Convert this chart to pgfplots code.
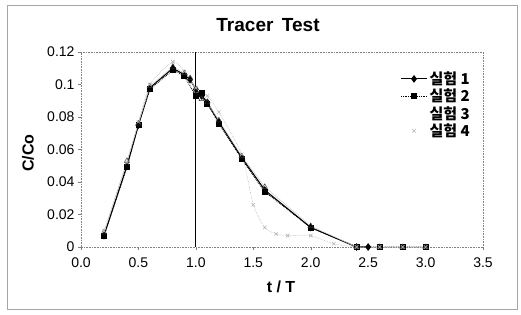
\documentclass[border=0pt]{standalone}
\usepackage{fontspec}
\setmainfont{Liberation Sans}
\newfontfamily\kr{Noto Sans CJK KR}
\usepackage{pgfplots}
\pgfplotsset{compat=1.18}
\pgfplotsset{
  legend image code/.code={\draw[#1] (0pt,0pt) -- (13pt,0pt) -- (26pt,0pt); \draw[#1,only marks] plot coordinates {(13pt,0pt)};},
  markonly legend/.style={legend image code/.code={\draw[##1,only marks] plot coordinates {(13pt,0pt)};}},
  empty legend/.style={legend image code/.code={}},
}
\begin{document}
\begin{tikzpicture}[x=1pt,y=1pt]
\useasboundingbox (0,0) rectangle (521,314);
\draw[gray!70,line width=0.8pt] (7,5) rectangle (517,309);
\node[font=\fontsize{19}{21}\selectfont\bfseries] at (268,289) {Tracer\, Test};
\node[font=\fontsize{16}{18}\selectfont\bfseries] at (281,27) {t / T};
\node[font=\fontsize{16}{18}\selectfont\bfseries,rotate=90] at (28,161) {C/Co};
\begin{axis}[
  at={(81pt,67pt)}, anchor=south west,
  scale only axis, width=402pt, height=195pt,
  xmin=0, xmax=3.5, ymin=0, ymax=0.12,
  xtick={0,0.5,...,3.5},
  ytick={0,0.02,0.04,0.06,0.08,0.1,0.12},
  yticklabels={0,0.02,0.04,0.06,0.08,0.1,0.12},
  xticklabel style={yshift=-4pt, /pgf/number format/fixed, /pgf/number format/fixed zerofill, /pgf/number format/precision=1},
  /pgf/number format/assume math mode=true,
  tick label style={font=\fontsize{14}{16}\selectfont},
  tick align=outside, major tick length=3pt,
  xtick pos=bottom, ytick pos=left,
  axis line style={gray, densely dotted, line width=0.6pt},
  tick style={gray},
  clip=false,
  legend style={at={(0.98,0.92)}, anchor=north east, draw=none, fill=none,
    font=\fontsize{15}{17}\selectfont\kr\bfseries, row sep=-1pt},
  legend cell align=left,
]
\addplot[black, line width=1.1pt, mark=diamond*, mark size=3pt] coordinates {
(0.2,0.007)(0.4,0.050)(0.5,0.075)(0.6,0.098)(0.8,0.110)(0.9,0.106)(0.95,0.103)(1.0,0.097)(1.05,0.093)(1.1,0.089)(1.2,0.077)(1.4,0.055)(1.6,0.035)(2.0,0.012)(2.4,0)(2.5,0)};
\addlegendentry{실험 1}
\addplot[black, densely dotted, line width=0.8pt, mark=square*, mark size=2.5pt, mark options={solid}] coordinates {
(0.2,0.007)(0.4,0.049)(0.5,0.075)(0.6,0.097)(0.8,0.109)(0.9,0.105)(1.0,0.093)(1.05,0.095)(1.1,0.088)(1.2,0.076)(1.4,0.054)(1.6,0.034)(2.0,0.012)(2.4,0)(2.6,0)(2.8,0)(3.0,0)};
\addlegendentry{실험 2}
\addplot[gray!40, line width=0.5pt, mark=triangle, mark size=3pt, mark options={black!80, solid}, empty legend] coordinates {
(0.2,0.009)(0.4,0.053)(0.5,0.076)(0.6,0.099)(0.8,0.111)(0.9,0.107)(0.95,0.104)(1.0,0.096)(1.05,0.091)(1.1,0.089)(1.2,0.078)(1.4,0.056)(1.6,0.037)(2.0,0.013)(2.4,0)(2.6,0)(2.8,0)(3.0,0)};
\addlegendentry{실험 3}
\addplot[gray!55, densely dotted, line width=0.6pt, smooth, tension=0.4, mark=x, mark size=2.5pt, mark options={solid, gray!60}, markonly legend] coordinates {
(0.2,0.010)(0.4,0.052)(0.5,0.077)(0.6,0.100)(0.8,0.114)(0.9,0.108)(1.0,0.098)(1.1,0.093)(1.2,0.083)(1.4,0.057)(1.5,0.026)(1.6,0.012)(1.7,0.008)(1.8,0.007)(2.0,0.007)(2.2,0.002)(2.4,0)(2.6,0)(2.8,0)(3.0,0)};
\addlegendentry{실험 4}
\draw[black, line width=0.9pt] (axis cs:1,0) -- (axis cs:1,0.12);
\end{axis}
\end{tikzpicture}
\end{document}
